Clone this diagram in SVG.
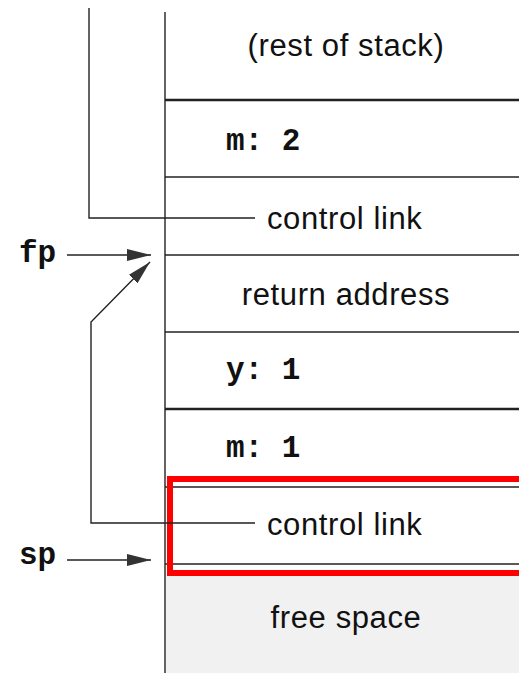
<svg xmlns="http://www.w3.org/2000/svg" width="519" height="673" viewBox="0 0 519 673">
<defs>
<marker id="ah2" markerWidth="24" markerHeight="12" refX="24" refY="6" orient="auto" markerUnits="userSpaceOnUse">
<path d="M0,0 L24,6 L0,12 Z" fill="#333"/>
</marker>
<style>
.ln{stroke:#222;stroke-width:1.4;fill:none}
.thk{stroke:#222;stroke-width:2.6;fill:none}
.sans{font-family:"Liberation Sans",Arial,sans-serif;font-size:31px;letter-spacing:0.6px;fill:#111}
.mono{font-family:"Liberation Mono","Courier New",monospace;font-size:31px;font-weight:bold;fill:#111}
</style>
</defs>
<rect width="519" height="673" fill="#fff"/>
<rect x="166" y="575" width="353" height="98" fill="#f1f1f1"/>
<g id="stack">
<line class="ln" x1="165" y1="12" x2="165" y2="673"/>
<line class="thk" x1="165" y1="100" x2="519" y2="100"/>
<line class="ln" x1="165" y1="177" x2="519" y2="177"/>
<line class="ln" x1="165" y1="255" x2="519" y2="255"/>
<line class="ln" x1="165" y1="332" x2="519" y2="332"/>
<line class="thk" x1="165" y1="409" x2="519" y2="409"/>
<line class="ln" x1="165" y1="487" x2="519" y2="487"/>
<line class="ln" x1="165" y1="564" x2="519" y2="564"/>
</g>
<g id="rest"><text class="sans" x="346" y="56" text-anchor="middle">(rest of stack)</text></g>
<g id="m2"><text class="mono" x="226" y="150">m: 2</text></g>
<g id="cl1"><text class="sans" x="267" y="229">control link</text></g>
<g id="ra"><text class="sans" x="346" y="305" text-anchor="middle">return address</text></g>
<g id="y1"><text class="mono" x="226" y="379">y: 1</text></g>
<g id="m1"><text class="mono" x="226" y="457">m: 1</text></g>
<g id="cl2"><text class="sans" x="267" y="535">control link</text></g>
<g id="free"><text class="sans" x="346" y="628" text-anchor="middle">free space</text></g>
<g id="fp"><text class="mono" x="19" y="262">fp</text></g>
<g id="sp"><text class="mono" x="19" y="564">sp</text></g>
<g id="hl"><rect x="170" y="479" width="352" height="94" fill="none" stroke="#ff0000" stroke-width="6"/></g>
<g id="connectors">
<polyline class="ln" points="89,8 89,218 255,218"/>
<polyline class="ln" points="255,523 91,523 91,322 150,262" marker-end="url(#ah2)"/>
<line class="ln" x1="67" y1="255" x2="151" y2="255" marker-end="url(#ah2)"/>
<line class="ln" x1="67" y1="560" x2="151" y2="560" marker-end="url(#ah2)"/>
</g>
</svg>
